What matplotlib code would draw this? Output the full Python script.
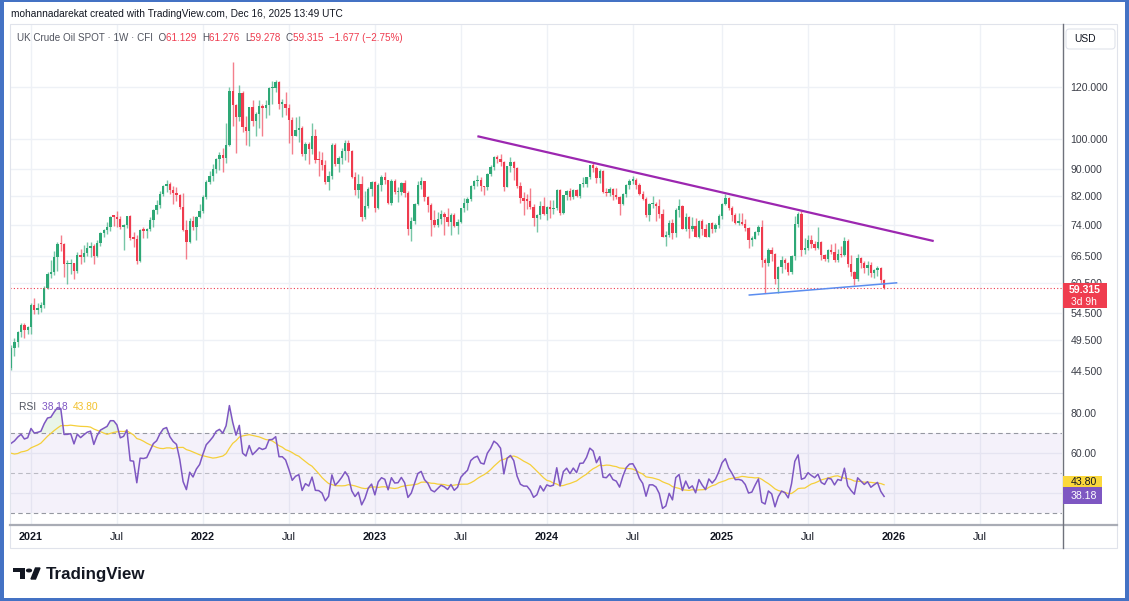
"""Weekly UK Crude Oil SPOT candles with RSI pane, TradingView style."""

import matplotlib
matplotlib.use("Agg")
import matplotlib.pyplot as plt
import matplotlib.transforms as mtransforms
from matplotlib.lines import Line2D
from matplotlib.patches import Rectangle, FancyBboxPatch, Circle, Polygon
from matplotlib.ticker import NullLocator
import numpy as np
import pandas as pd

plt.rcParams["font.family"] = ["Liberation Sans", "DejaVu Sans"]

# ---------------------------------------------------------------- data
FIRST_WEEK = "2020-11-23"   # Monday of the first visible weekly bar

# hidden weekly closes before the first bar (only used to warm up the RSI)
warmup_closes = [28.08, 21.44, 26.44, 30.97, 32.50, 35.13, 35.33, 42.30, 38.73,
                 42.19, 41.02, 42.80, 43.24, 43.14, 43.34, 43.30, 44.40, 44.80,
                 44.35, 45.81, 42.66, 39.83, 43.15, 41.92, 39.27, 42.85, 42.93,
                 41.77, 37.94, 39.45, 42.78, 44.96]

closes_2020 = [48.18, 49.25, 50.97, 52.26, 51.29, 51.80]
highs_2020 = [48.70, 49.90, 51.20, 52.50, 52.50, 52.00]
lows_2020 = [44.60, 46.90, 48.30, 50.10, 49.80, 50.50]

closes_2021 = [55.99, 55.10, 55.41, 55.88, 59.34, 62.43, 62.91, 66.13, 69.36, 69.22,
               64.53, 64.57, 64.86, 62.95, 66.77, 66.11, 67.25, 68.28, 68.71, 66.44,
               69.63, 71.89, 72.69, 73.51, 76.18, 76.17, 75.55, 73.59, 74.10, 76.33,
               70.70, 70.59, 65.18, 72.70, 72.61, 72.92, 75.34, 78.09, 79.28, 82.39,
               84.86, 85.53, 83.72, 82.74, 82.17, 78.89, 72.72, 69.88, 75.15, 73.52,
               76.14, 77.78]
highs_2021 = [56.30, 57.40, 56.40, 56.50, 59.80, 62.80, 65.50, 67.70, 69.80, 71.40,
              69.60, 65.50, 65.70, 64.90, 67.40, 68.00, 69.10, 69.80, 69.80, 69.30,
              70.20, 72.30, 73.10, 74.90, 76.50, 76.60, 77.80, 76.50, 74.20, 76.50,
              76.60, 72.30, 71.60, 72.90, 73.60, 73.20, 76.20, 78.30, 80.80, 83.50,
              85.10, 86.70, 86.10, 85.00, 84.60, 82.50, 82.70, 75.30, 76.00, 76.30,
              76.40, 79.70]
lows_2021 = [50.50, 54.30, 54.20, 54.60, 55.30, 59.30, 61.50, 62.10, 63.00, 67.50,
             61.80, 60.30, 62.40, 61.30, 62.50, 64.60, 65.10, 66.50, 66.20, 64.60,
             66.10, 68.90, 71.00, 71.70, 72.60, 73.70, 73.60, 72.90, 67.90, 73.20,
             70.30, 68.60, 64.60, 65.00, 70.80, 70.70, 72.50, 73.40, 76.90, 78.50,
             82.00, 83.20, 82.60, 79.80, 80.60, 78.40, 72.40, 65.70, 69.50, 72.70,
             70.20, 75.80]

closes_2022 = [81.75, 86.06, 87.89, 90.03, 93.27, 94.44, 93.54, 97.93, 118.11, 112.67,
               107.93, 117.50, 104.39, 102.78, 111.70, 106.65, 109.34, 112.39, 111.55, 112.55,
               119.43, 119.72, 122.01, 113.12, 113.12, 111.63, 107.02, 101.16, 103.20, 104.00,
               94.92, 98.15, 96.72, 100.99, 93.02, 92.84, 91.35, 86.15, 87.96, 97.92,
               91.63, 93.50, 95.77, 98.57, 95.99, 87.62, 83.63, 85.57, 76.10, 79.04,
               83.92, 85.91]
highs_2022 = [82.10, 86.70, 89.50, 91.70, 93.70, 95.50, 97.00, 105.80, 119.80, 130.80,
              112.90, 121.00, 118.50, 108.50, 112.00, 114.80, 109.80, 114.50, 112.90, 114.50,
              119.90, 122.50, 123.00, 122.50, 115.00, 118.00, 113.00, 107.90, 108.00, 108.50,
              104.50, 99.00, 99.00, 105.60, 103.50, 96.00, 95.60, 93.00, 89.40, 98.80,
              98.80, 94.30, 96.90, 99.50, 99.60, 96.40, 89.00, 88.50, 88.00, 83.30,
              84.50, 86.30]
lows_2022 = [77.10, 81.00, 85.60, 86.50, 88.90, 89.90, 89.10, 92.00, 97.50, 104.50,
             95.20, 106.50, 102.40, 98.00, 97.60, 104.50, 101.20, 103.90, 101.00, 107.60,
             108.90, 113.00, 118.00, 111.00, 108.00, 108.90, 98.50, 95.00, 101.00, 99.00,
             94.40, 92.80, 91.60, 94.80, 92.00, 87.80, 89.80, 85.60, 83.60, 87.00,
             91.00, 89.00, 91.60, 93.00, 92.40, 87.20, 82.30, 81.50, 75.10, 75.70,
             78.60, 82.00]

closes_2023 = [78.57, 85.28, 87.63, 86.66, 79.94, 86.39, 83.00, 83.16, 85.83, 82.78,
               72.97, 74.99, 79.77, 85.12, 86.31, 81.66, 79.54, 75.30, 74.17, 75.58,
               76.95, 76.13, 74.79, 76.61, 73.85, 74.90, 78.47, 79.87, 81.07, 84.99,
               86.24, 86.81, 84.80, 84.48, 88.55, 90.65, 93.93, 93.30, 92.20, 84.58,
               90.89, 92.16, 90.48, 84.89, 81.43, 80.61, 80.58, 78.88, 75.84, 76.55,
               79.07, 77.04]
highs_2023 = [86.50, 85.70, 88.20, 89.10, 86.70, 86.90, 86.90, 84.60, 86.00, 86.80,
              83.30, 76.20, 80.00, 86.40, 87.50, 86.50, 82.00, 80.00, 78.00, 77.50,
              78.00, 77.50, 78.70, 77.20, 77.10, 75.70, 78.60, 81.40, 81.70, 85.10,
              86.60, 88.10, 87.60, 85.00, 88.80, 91.20, 94.30, 94.60, 95.00, 92.60,
              91.00, 93.80, 92.60, 90.60, 86.00, 83.20, 82.40, 84.40, 79.60, 77.00,
              80.60, 81.70]
lows_2023 = [77.60, 78.40, 83.50, 85.60, 79.70, 79.50, 82.60, 80.20, 82.10, 81.80,
             71.40, 70.10, 74.40, 79.50, 84.00, 80.50, 77.40, 71.30, 73.50, 73.40,
             74.40, 71.40, 73.90, 71.60, 73.40, 71.80, 74.60, 77.40, 78.10, 80.40,
             83.90, 84.80, 83.30, 82.30, 83.80, 88.00, 89.80, 91.90, 91.00, 83.40,
             84.50, 89.00, 86.70, 84.30, 79.90, 76.60, 78.40, 78.20, 73.80, 72.30,
             75.60, 76.60]

closes_2024 = [78.76, 78.29, 78.56, 83.55, 77.33, 82.19, 83.47, 81.62, 83.55, 82.08,
               85.34, 85.43, 87.48, 91.17, 90.45, 87.29, 89.50, 82.96, 82.79, 83.98,
               82.12, 81.62, 79.62, 82.62, 85.24, 86.41, 86.54, 85.03, 82.63, 81.13,
               76.81, 79.66, 79.68, 79.02, 76.93, 71.06, 71.61, 74.49, 71.98, 78.05,
               79.04, 73.06, 76.05, 73.10, 73.87, 71.04, 75.17, 72.94, 71.12, 74.49,
               72.94, 74.17, 76.51]
highs_2024 = [79.20, 80.80, 80.80, 84.00, 83.90, 82.30, 83.70, 84.20, 84.00, 84.00,
              85.60, 87.70, 87.70, 91.30, 92.20, 90.90, 90.00, 89.70, 84.40, 84.50,
              84.30, 84.40, 81.90, 82.90, 85.60, 87.10, 88.00, 87.20, 85.70, 83.30,
              81.70, 80.00, 82.00, 80.20, 81.00, 78.40, 72.50, 75.30, 75.70, 78.50,
              81.20, 79.30, 77.20, 76.40, 76.20, 75.80, 75.40, 75.50, 74.20, 74.60,
              74.90, 74.60, 76.90]
lows_2024 = [75.30, 75.80, 77.00, 77.90, 76.60, 76.90, 80.70, 80.80, 81.10, 81.60,
             81.40, 84.60, 84.60, 86.90, 89.20, 85.90, 85.80, 82.70, 82.00, 81.90,
             80.80, 81.20, 76.80, 79.40, 81.70, 84.10, 85.60, 84.00, 82.30, 80.70,
             76.20, 75.10, 78.50, 75.00, 76.00, 70.90, 68.70, 71.00, 70.60, 70.90,
             76.20, 72.90, 72.60, 70.70, 72.50, 70.90, 70.80, 71.60, 70.90, 70.90,
             72.10, 72.30, 73.30]

closes_2025 = [79.76, 81.29, 78.50, 76.76, 74.66, 74.74, 74.43, 73.18, 70.36, 70.58,
               72.16, 73.63, 65.58, 64.76, 67.96, 66.87, 61.29, 63.91, 65.41, 64.78,
               62.78, 66.47, 74.23, 77.01, 67.77, 68.30, 70.36, 69.28, 68.44, 69.67,
               66.59, 65.85, 67.73, 67.48, 65.50, 66.99, 66.68, 70.13, 64.53, 62.73,
               61.29, 65.94, 64.77, 63.63, 64.39, 62.56, 63.20, 63.75, 60.99, 59.315]
highs_2025 = [80.00, 82.60, 81.60, 79.20, 77.20, 77.20, 77.30, 75.60, 73.40, 71.30,
              72.60, 74.00, 75.30, 66.00, 68.30, 68.60, 67.10, 64.20, 66.50, 66.00,
              65.00, 66.60, 76.50, 77.50, 77.80, 70.80, 71.50, 71.50, 70.00, 73.50,
              69.90, 67.00, 68.10, 69.30, 69.50, 68.00, 68.80, 70.90, 70.50, 66.60,
              63.00, 66.80, 66.30, 65.30, 65.30, 65.00, 63.50, 64.20, 63.90, 61.276]
lows_2025 = [75.60, 79.30, 78.10, 75.10, 74.20, 74.00, 74.00, 72.40, 68.30, 68.90,
             70.40, 71.60, 64.00, 58.40, 64.20, 65.30, 60.20, 58.40, 62.60, 63.40,
             62.20, 62.30, 65.60, 73.50, 66.40, 66.80, 67.80, 68.30, 67.80, 68.20,
             65.40, 65.20, 65.00, 66.80, 65.10, 65.00, 66.20, 66.40, 63.90, 62.00,
             60.10, 60.90, 63.80, 62.60, 62.10, 61.80, 61.60, 61.90, 60.50, 59.278]

last_open = 61.129
last_price = 59.315
rsi_text = "38.18"
rsi_ma_text = "43.80"

price_ticks = [44.5, 49.5, 54.5, 60.5, 66.5, 74.0, 82.0, 90.0, 100.0, 120.0]
rsi_ticks = [40, 60, 80]

# trend line drawings: (date, price) anchors
resistance_line = [("2023-08-07", 101.0), ("2026-03-30", 70.0)]
support_line = [("2025-03-03", 57.95), ("2026-01-12", 60.5)]

# ---------------------------------------------------------------- series
closes = np.array(closes_2020 + closes_2021 + closes_2022 + closes_2023 + closes_2024 + closes_2025)
highs = np.array(highs_2020 + highs_2021 + highs_2022 + highs_2023 + highs_2024 + highs_2025)
lows = np.array(lows_2020 + lows_2021 + lows_2022 + lows_2023 + lows_2024 + lows_2025)
opens = np.r_[warmup_closes[-1], closes[:-1]]
opens[-1] = last_open
n = len(closes)
idx = np.arange(n)
start = pd.Timestamp(FIRST_WEEK)


def week_index(date):
    return (pd.Timestamp(date) - start).days / 7.0


def rsi_wilder(values, length=14):
    c = np.asarray(values, dtype=float)
    d = np.diff(c)
    gain = np.where(d > 0, d, 0.0)
    loss = np.where(d < 0, -d, 0.0)
    avg_g = np.full(len(c), np.nan)
    avg_l = np.full(len(c), np.nan)
    avg_g[length] = gain[:length].mean()
    avg_l[length] = loss[:length].mean()
    for i in range(length + 1, len(c)):
        avg_g[i] = (avg_g[i - 1] * (length - 1) + gain[i - 1]) / length
        avg_l[i] = (avg_l[i - 1] * (length - 1) + loss[i - 1]) / length
    return 100 - 100 / (1 + avg_g / avg_l)


all_closes = np.r_[warmup_closes, closes]
rsi_all = rsi_wilder(all_closes)
rsi_ma_all = pd.Series(rsi_all).rolling(14).mean().to_numpy()
rsi = rsi_all[len(warmup_closes):]
rsi_ma = rsi_ma_all[len(warmup_closes):]

# ---------------------------------------------------------------- layout
W, H = 1129, 601
GREEN, RED = "#2ea876", "#ef3b4e"
PURPLE, YELLOW = "#7e57c2", "#f5cf3a"
GRID = "#eef1f6"
TXT = "#131722"

fig = plt.figure(figsize=(W / 100, H / 100), dpi=100)
fig.patch.set_facecolor("white")


def fx(px):
    return px / W


def fy(py):
    return 1 - py / H


PANE_L, PANE_R = 10, 1062
MAIN_T, MAIN_B = 25, 393
RSI_T, RSI_B = 393, 525
X_MIN, X_MAX = -0.35, 317.8

ax = fig.add_axes([fx(PANE_L), fy(MAIN_B), (PANE_R - PANE_L) / W, (MAIN_B - MAIN_T) / H])
axr = fig.add_axes([fx(PANE_L), fy(RSI_B), (PANE_R - PANE_L) / W, (RSI_B - RSI_T) / H], sharex=ax)

# time ticks: first weekly bar of each January / July inside the view
ext_dates = pd.date_range(FIRST_WEEK, periods=int(X_MAX) + 1, freq="W-MON")
tick_pos, tick_lab = [], []
for i in range(1, len(ext_dates)):
    d, p = ext_dates[i], ext_dates[i - 1]
    if d.month != p.month and d.month in (1, 7) and i < X_MAX - 8:
        tick_pos.append(i)
        tick_lab.append(str(d.year) if d.month == 1 else "Jul")

for a in (ax, axr):
    a.set_facecolor("white")
    for s in a.spines.values():
        s.set_visible(False)
    a.set_xticks(tick_pos)
    a.tick_params(axis="x", length=0, labelbottom=False)
    a.grid(True, color=GRID, lw=1.0, zorder=0)
    a.set_axisbelow(True)
ax.set_xlim(X_MIN, X_MAX)

# ---------------------------------------------------------------- candles
up = closes >= opens
cols = np.where(up, GREEN, RED)
ax.vlines(idx, lows, highs, colors=cols, lw=1.0, alpha=0.65, zorder=2)
body_lo = np.minimum(opens, closes)
body_h = np.maximum(np.abs(closes - opens), body_lo * 0.005)
ax.bar(idx, body_h, bottom=body_lo, width=0.72, color=cols, lw=0, zorder=3)

ax.set_yscale("log")
ax.set_ylim(41.15, 149.0)
ax.yaxis.set_minor_locator(NullLocator())
ax.set_yticks(price_ticks)
ax.set_yticklabels([f"{v:.3f}" for v in price_ticks])
ax.yaxis.tick_right()
ax.tick_params(axis="y", length=0, pad=6.0, labelsize=7.6, labelcolor="#3a3d47")

ax.axhline(last_price, color=RED, lw=0.8, ls=(0, (1, 2)), zorder=4)

for pts, col, lw in ((resistance_line, "#9c27b0", 1.6), (support_line, "#5b8def", 1.1)):
    xs = [week_index(d) for d, _ in pts]
    ys = [p for _, p in pts]
    ax.plot(xs, ys, color=col, lw=lw, solid_capstyle="butt", zorder=5)

# ---------------------------------------------------------------- RSI
axr.set_ylim(24.15, 89.85)
axr.set_yticks(rsi_ticks)
axr.set_yticklabels([f"{v:.2f}" for v in rsi_ticks])
axr.yaxis.tick_right()
axr.tick_params(axis="y", length=0, pad=6.0, labelsize=7.6, labelcolor="#3a3d47")
axr.axhspan(30, 70, color=PURPLE, alpha=0.08, lw=0, zorder=1)
for lvl, al in ((70, 1.0), (50, 0.6), (30, 1.0)):
    axr.axhline(lvl, color="#9598a1", lw=0.8, ls=(0, (4, 3)), alpha=al, zorder=2)
axr.fill_between(idx, 70, rsi, where=rsi > 70, interpolate=True, color="#4caf50", alpha=0.12, lw=0, zorder=2)
axr.fill_between(idx, 30, rsi, where=rsi < 30, interpolate=True, color="#f23645", alpha=0.12, lw=0, zorder=2)
axr.plot(idx, rsi_ma, color=YELLOW, lw=0.9, zorder=3)
axr.plot(idx, rsi, color=PURPLE, lw=1.1, zorder=4)

xlab_tr = mtransforms.blended_transform_factory(axr.transData, axr.transAxes)
for p, lab in zip(tick_pos, tick_lab):
    axr.text(p, -(537 - RSI_B) / (RSI_B - RSI_T), lab, transform=xlab_tr, ha="center", va="center",
             fontsize=7.8, color=TXT, fontweight="bold" if lab != "Jul" else "normal", clip_on=False)

# ---------------------------------------------------------------- chrome
def fig_line(x0, y0, x1, y1, color, lw):
    fig.add_artist(Line2D([fx(x0), fx(x1)], [fy(y0), fy(y1)], color=color, lw=lw))


def fig_rect(x0, y0, x1, y1, face, edge="none", lw=0, z=5):
    fig.add_artist(Rectangle((fx(x0), fy(y1)), (x1 - x0) / W, (y1 - y0) / H,
                             facecolor=face, edgecolor=edge, lw=lw, zorder=z))


def fig_label(x, y, s, **kw):
    fig.text(fx(x), fy(y), s, va="center", ha="left", zorder=10, **kw)


fig_rect(10, 24, 1117, 548, "none", edge="#e0e3eb", lw=0.8, z=1)
fig_line(10, 393, 1062, 393, "#e0e3eb", 0.8)
fig_line(10, 525, 1117, 525, "#a9acb5", 1.6)
fig_line(1062.5, 24, 1062.5, 548, "#6f727c", 1.0)

usd = FancyBboxPatch((fx(1066), fy(49)), 49 / W, 20 / H, boxstyle="round,pad=0,rounding_size=0.003",
                     mutation_aspect=W / H, facecolor="white", edgecolor="#e0e3eb", lw=0.8,
                     transform=fig.transFigure)
fig.add_artist(usd)
fig_label(1074, 39, "USD", fontsize=7.4, color=TXT)

# current price label
fig_rect(1063, 283, 1107, 308, "#ef3d4f")
fig_label(1069, 290, f"{last_price:.3f}", fontsize=7.6, color="white", fontweight="bold")
fig_label(1071, 302, "3d 9h", fontsize=7.4, color="white")

# RSI value labels
fig_rect(1063, 476, 1102, 487.3, "#fbd83b")
fig_label(1071, 481.9, rsi_ma_text, fontsize=7.6, color=TXT)
fig_rect(1063, 487.3, 1102, 504, PURPLE)
fig_label(1071, 495.9, rsi_text, fontsize=7.6, color="white")

renderer = fig.canvas.get_renderer()


def seg_text(x, y, parts, size):
    for s, col, wt in parts:
        t = fig.text(fx(x), fy(y), s, color=col, fontsize=size, fontweight=wt, ha="left", va="center")
        x += t.get_window_extent(renderer).width


fig_label(11, 14, "mohannadarekat created with TradingView.com, Dec 16, 2025 13:49 UTC",
          fontsize=7.3, color=TXT)

GRAY = "#50535e"
seg_text(17, 38, [("UK Crude Oil SPOT · 1W · CFI  O", GRAY, "normal"), ("61.129  ", RED, "normal"),
                  ("H", GRAY, "normal"), ("61.276  ", RED, "normal"), ("L", GRAY, "normal"),
                  ("59.278  ", RED, "normal"), ("C", GRAY, "normal"),
                  ("59.315  −1.677 (−2.75%)", RED, "normal")], 7.1)
seg_text(19, 407, [("RSI  ", GRAY, "normal"), ("38.18  ", PURPLE, "normal"),
                   ("43.80", "#f2c12e", "normal")], 7.4)

# TradingView logo
K = "#131722"
fig_rect(13, 568, 25, 572, K, z=6)
fig_rect(20, 568, 25, 579, K, z=6)
fig.add_artist(Circle((fx(29), fy(570.5)), 2.4 / W, color=K, zorder=6))
fig.add_artist(Polygon([(fx(31), fy(579)), (fx(35.5), fy(579)), (fx(40), fy(568)), (fx(35.5), fy(568))],
                       closed=True, color=K, zorder=6))
fig_label(46, 574, "TradingView", fontsize=12.2, color=K, fontweight="bold")

# outer blue frame of the screenshot
BLUE = "#4472c4"
fig_rect(0, 0, 4, 601, BLUE, z=7)
fig_rect(1125, 0, 1129, 601, BLUE, z=7)
fig_rect(0, 0, 1129, 1.5, BLUE, z=7)
fig_rect(0, 598, 1129, 601, BLUE, z=7)

fig.savefig("out.png", dpi=100)
plt.close(fig)
